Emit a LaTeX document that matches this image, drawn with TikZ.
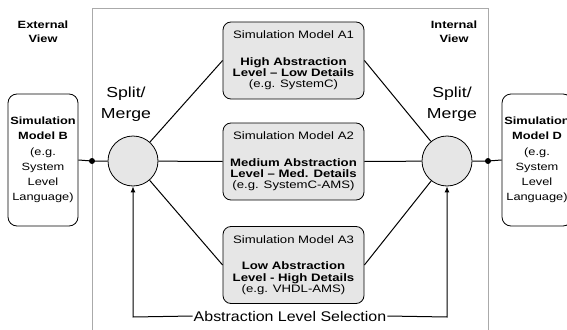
\documentclass[tikz,border=0pt]{standalone}
\usepackage{fontspec}
\setmainfont{Liberation Sans}[FakeStretch=1.22]
\newfontfamily\selfont{Liberation Sans}[FakeStretch=1.14]
\usetikzlibrary{arrows.meta}
\definecolor{boxfill}{HTML}{E6E6E6}
\definecolor{framegray}{HTML}{AAAAAA}
\tikzset{
  abox/.style={draw=black, line width=0.8pt, rounded corners=8pt, fill=boxfill,
    minimum width=141pt, minimum height=77pt, inner sep=0pt, align=center,
    font=\fontsize{10.8}{11.3}\selectfont},
  sidebox/.style={draw=black, line width=0.8pt, rounded corners=9pt, fill=white,
    minimum width=70pt, minimum height=132pt, inner sep=0pt, align=center,
    font=\fontsize{10.5}{15.2}\selectfont},
  merger/.style={circle, draw=black, line width=0.8pt, fill=boxfill,
    minimum size=50pt, inner sep=0pt},
  conn/.style={line width=1pt, black},
  junction/.style={circle, fill=black, inner sep=0pt, minimum size=6pt},
  viewlabel/.style={align=center, font=\fontsize{10.5}{14}\selectfont\bfseries},
  smlabel/.style={align=center, font=\fontsize{14.5}{21}\selectfont},
}
\begin{document}
\begin{tikzpicture}[x=1pt, y=-1pt]
\path[use as bounding box, clip] (0,0) rectangle (567,329);
% frame
\draw[framegray, line width=0.9pt] (92,345) -- (92,8) -- (488,8) -- (488,345);

% nodes
\node[sidebox] (B) at (43,160) {{\bfseries Simulation}\\{\bfseries Model B}\\(e.g.\\System\\Level\\Language)};
\node[sidebox] (D) at (537,160) {{\bfseries Simulation}\\{\bfseries Model D}\\(e.g.\\System\\Level\\Language)};

\node[merger] (cl) at (133,161) {};
\node[merger] (cr) at (447,161) {};

\node[abox] (A1) at (293.5,60.5) {Simulation Model A1\\[15.5pt]{\bfseries High Abstraction}\\{\bfseries Level – Low Details}\\(e.g. SystemC)};
\node[abox] (A2) at (293.5,161.5) {Simulation Model A2\\[15.5pt]{\bfseries Medium Abstraction}\\{\bfseries Level – Med. Details}\\(e.g. SystemC-AMS)};
\node[abox] (A3) at (293.5,265) {Simulation Model A3\\[15.5pt]{\bfseries Low Abstraction}\\{\bfseries Level - High Details}\\(e.g. VHDL-AMS)};

\node[viewlabel] (ext) at (43,32) {External\\View};
\node[viewlabel] (int) at (454,32) {Internal\\View};

\node[smlabel] (sml) at (126,104) {Split/\\Merge};
\node[smlabel] (smr) at (452,104) {Split/\\Merge};

\node[font=\selfont\fontsize{14}{15}\selectfont, inner sep=1pt] (sel) at (290,316) {Abstraction Level Selection};

\node[junction] (jl) at (92,161) {};
\node[junction] (jr) at (488,161) {};

\coordinate (sl) at (133,317);
\coordinate (sr) at (447,317);

% connectors
\draw[conn] (B.east) -- (jl.center) -- (cl.west);
\draw[conn] (cr.east) -- (jr.center) -- (D.west);
\draw[conn] (cl) -- (A1.west);
\draw[conn] (cl) -- (A2.west);
\draw[conn] (cl) -- (A3.west);
\draw[conn] (cr) -- (A1.east);
\draw[conn] (cr) -- (A2.east);
\draw[conn] (cr) -- (A3.east);
\draw[conn, -{Latex[length=6pt,width=5pt]}] (sel.west) -- (sl) -- (cl.south);
\draw[conn, -{Latex[length=6pt,width=5pt]}] (sel.east) -- (sr) -- (cr.south);
\end{tikzpicture}
\end{document}
